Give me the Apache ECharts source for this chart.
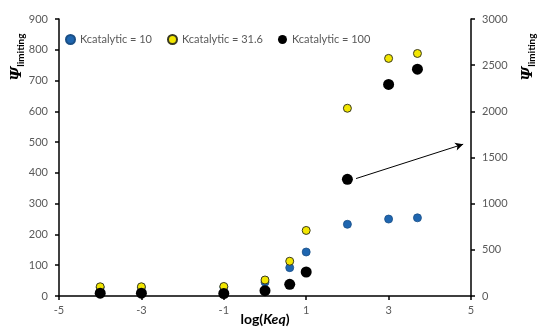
<!DOCTYPE html>
<html><head><meta charset="utf-8">
<script src="https://cdn.jsdelivr.net/npm/echarts@6/dist/echarts.min.js"></script>
<style>html,body{margin:0;padding:0;background:#fff}#c{width:537px;height:332px}</style>
</head><body><div id="c"></div>
<script>
const logKeq = [-4, -3, -1, 0, 0.6, 1, 2, 3, 3.7];
const kcat10 = [28, 28, 29, 45, 92, 143, 233, 250, 254];
const kcat316 = [30, 30, 31, 52, 113, 213, 610, 772, 788];
const kcat100 = [30, 30, 27, 58, 127, 260, 1264, 2291, 2457];
const seriesNames = ['Kcatalytic = 10', 'Kcatalytic = 31.6', 'Kcatalytic = 100'];
const arrowFrom = [2.21, 1272];
const arrowTo = [4.81, 1644];

const pair = ys => logKeq.map((x, i) => [x, ys[i]]);
const FONT = 'Lato';
const chart = echarts.init(document.getElementById('c'));
const nameRich = {
  p: {fontFamily: 'DejaVu Serif', fontStyle: 'italic', fontWeight: 'bold', fontSize: 15, color: '#000'},
  s: {fontFamily: FONT, fontWeight: 'bold', fontSize: 10, color: '#000', padding: [7, 0, 0, 0]}
};
const yAxisCommon = {
  type: 'value',
  axisLine: {show: true, onZero: false, lineStyle: {color: '#000', width: 1.5}},
  axisTick: {show: true, length: 4, lineStyle: {color: '#000', width: 1.5}},
  axisLabel: {margin: 11, fontFamily: FONT, fontSize: 11, color: '#595959', formatter: v => String(v)},
  splitLine: {show: false}
};
chart.setOption({
  animation: false,
  grid: {left: 59, right: 66, top: 19, bottom: 36, containLabel: false, outerBoundsMode: 'none'},
  legend: {
    left: 60, top: 29, itemWidth: 9, itemHeight: 9, itemGap: 15, icon: 'circle',
    textStyle: {fontFamily: FONT, fontSize: 11, color: '#595959'},
    data: seriesNames
  },
  xAxis: {
    type: 'value', min: -5, max: 5, interval: 2,
    name: '{a|log(}{b|Keq}{a|)}', nameLocation: 'middle', nameGap: 16, nameMoveOverlap: false,
    nameTextStyle: {rich: {
      a: {fontFamily: FONT, fontWeight: 'bold', fontSize: 14, color: '#000'},
      b: {fontFamily: FONT, fontWeight: 'bold', fontStyle: 'italic', fontSize: 14, color: '#000'}
    }},
    axisLine: {onZero: false, lineStyle: {color: '#000', width: 1.5}},
    axisTick: {show: true, length: 4, lineStyle: {color: '#000', width: 1.5}},
    axisLabel: {margin: 9, fontFamily: FONT, fontSize: 11, color: '#595959'},
    splitLine: {show: false}
  },
  yAxis: [
    Object.assign({}, yAxisCommon, {min: 0, max: 900, interval: 100, position: 'left'}),
    Object.assign({}, yAxisCommon, {min: 0, max: 3000, interval: 500, position: 'right'})
  ],
  graphic: [{
    type: 'text', x: 17, y: 57, rotation: Math.PI / 2,
    style: {text: '{p|Ψ}{s|limiting}', rich: nameRich, align: 'center', verticalAlign: 'middle'}
  }, {
    type: 'text', x: 528, y: 57, rotation: Math.PI / 2,
    style: {text: '{p|Ψ}{s|limiting}', rich: nameRich, align: 'center', verticalAlign: 'middle'}
  }],
  series: [{
    name: seriesNames[0], type: 'scatter', yAxisIndex: 0, symbolSize: 8,
    itemStyle: {color: '#1F66B0', borderColor: '#1a4f86', borderWidth: 0.8, opacity: 1},
    data: pair(kcat10)
  }, {
    name: seriesNames[1], type: 'scatter', yAxisIndex: 0, symbolSize: 8,
    itemStyle: {color: '#F2E600', borderColor: '#3a3a20', borderWidth: 1, opacity: 1},
    data: pair(kcat316)
  }, {
    name: seriesNames[2], type: 'scatter', yAxisIndex: 1, symbolSize: 11,
    itemStyle: {color: '#000', opacity: 1},
    data: pair(kcat100),
    markLine: {
      silent: true, symbol: ['none', 'arrow'], symbolSize: [6, 8],
      label: {show: false},
      lineStyle: {color: '#000', width: 1, type: 'solid'},
      data: [[{coord: arrowFrom}, {coord: arrowTo}]]
    }
  }]
});
</script></body></html>
